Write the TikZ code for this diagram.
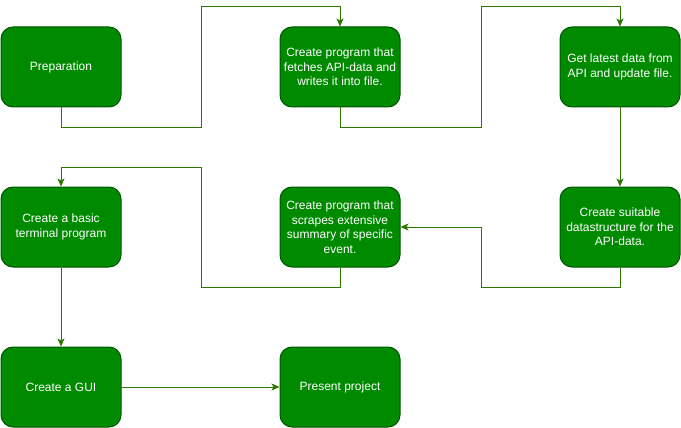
\documentclass[tikz,border=0pt]{standalone}
\usepackage{fontspec}
\setmainfont{Liberation Sans}
\usetikzlibrary{arrows.meta}

\definecolor{boxfill}{HTML}{008A00}
\definecolor{boxline}{HTML}{005700}
\definecolor{flowline}{HTML}{2D7600}

\tikzset{
  stepbox/.style={draw=boxline, fill=boxfill, line width=1pt, rounded corners=12pt,
    minimum width=120pt, minimum height=80pt, align=center,
    text=white, font=\fontsize{12}{14.5}\selectfont, inner sep=0pt},
  flow/.style={draw=flowline, line width=1pt,
    -{Stealth[length=8pt,width=7pt,inset=2pt]}}
}

\begin{document}
\begin{tikzpicture}[x=1pt,y=-1pt]
  \useasboundingbox (0,0) rectangle (681,428);

  % first row
  \node[stepbox] (prep)   at (61,67)  {Preparation};
  \node[stepbox] (fetch)  at (340,67) {Create program that\\fetches API-data and\\writes it into file.};
  \node[stepbox] (latest) at (620,67) {Get latest data from\\API and update file.};

  % second row
  \node[stepbox] (term)   at (61,227)  {Create a basic\\terminal program};
  \node[stepbox] (scrape) at (340,227) {Create program that\\scrapes extensive\\summary of specific\\event.};
  \node[stepbox] (struct) at (620,227) {Create suitable\\datastructure for the\\API-data.};

  % third row
  \node[stepbox] (gui)     at (61,387)  {Create a GUI};
  \node[stepbox] (present) at (340,387) {Present project};

  % connectors
  \draw[flow] (prep.south) -- ++(0,20) -| (201,7) -| (fetch.north);
  \draw[flow] (fetch.south) -- ++(0,20) -| (481,7) -| (latest.north);
  \draw[flow] (latest.south) -- (struct.north);
  \draw[flow] (struct.south) -- ++(0,20) -| ([xshift=81pt]scrape.east) -- (scrape.east);
  \draw[flow] (scrape.south) -- ++(0,20) -| (201,167) -| (term.north);
  \draw[flow] (term.south) -- (gui.north);
  \draw[flow] (gui.east) -- (present.west);
\end{tikzpicture}
\end{document}
